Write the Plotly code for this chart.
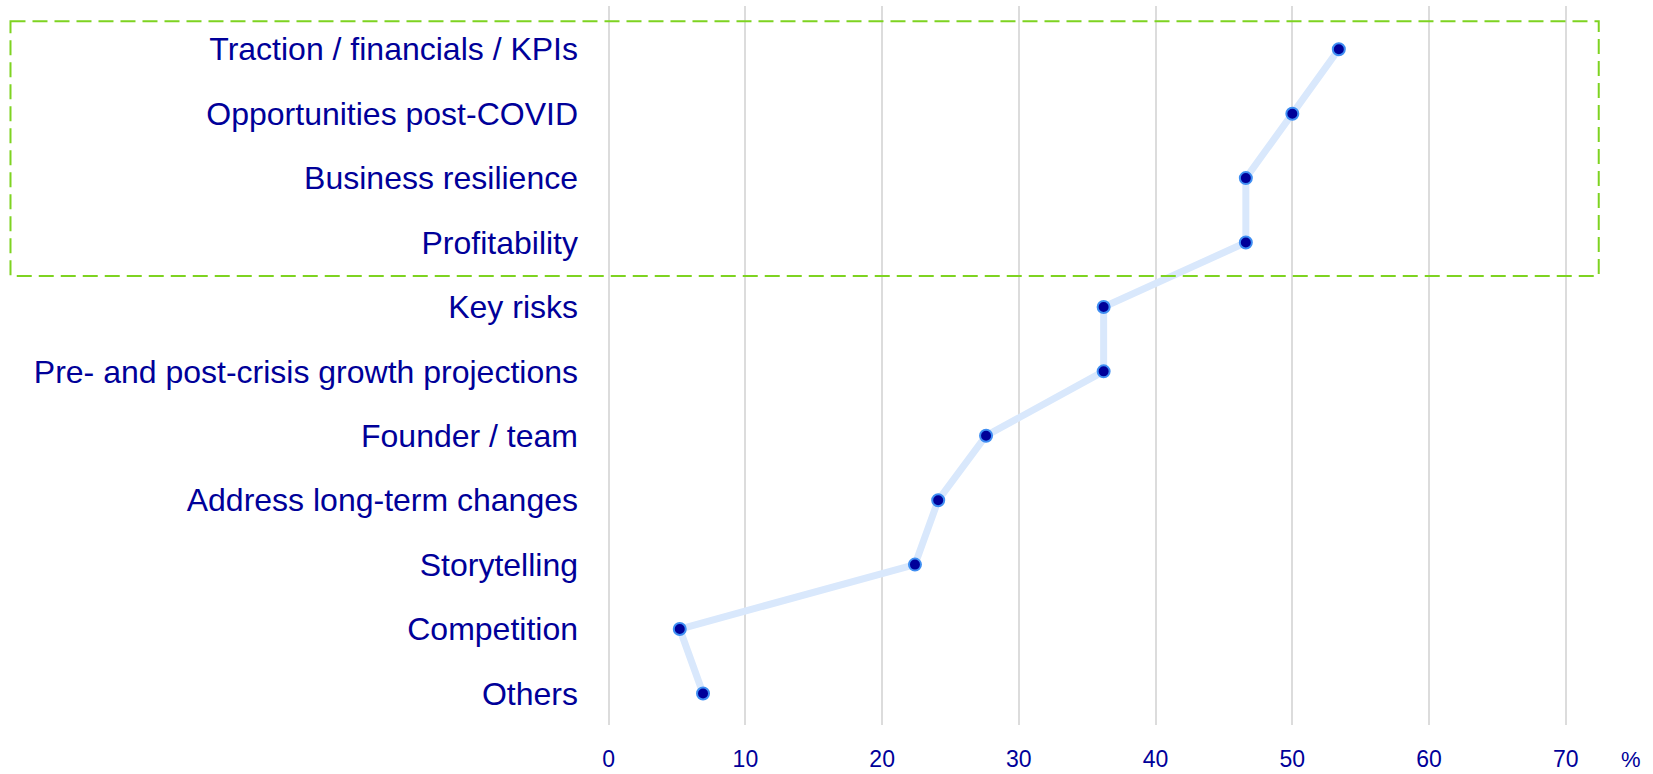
"""Key topics investors ask about – dot/line chart of % of respondents."""

import plotly.graph_objects as go

categories = [
    "Traction / financials / KPIs",
    "Opportunities post-COVID",
    "Business resilience",
    "Profitability",
    "Key risks",
    "Pre- and post-crisis growth projections",
    "Founder / team",
    "Address long-term changes",
    "Storytelling",
    "Competition",
    "Others",
]
share_pct = [53.4, 50.0, 46.6, 46.6, 36.2, 36.2, 27.6, 24.1, 22.4, 5.2, 6.9]

x_ticks = [0, 10, 20, 30, 40, 50, 60, 70]
x_tick_labels = ["0", "10", "20", "30", "40", "50", "60", "70"]
unit_label = "%"

highlighted = ["Traction / financials / KPIs", "Opportunities post-COVID",
               "Business resilience", "Profitability"]

TEXT = "#000099"
FONT = "Liberation Sans, Arial, sans-serif"

fig = go.Figure()
fig.add_trace(go.Scatter(
    x=share_pct,
    y=categories,
    mode="lines+markers",
    line=dict(color="#d9e8fc", width=7),
    marker=dict(size=12, color="#000099", line=dict(color="#3f8ef2", width=2)),
    hoverinfo="x+y",
    showlegend=False,
))

# dashed highlight box around the top group
idx = [categories.index(c) for c in highlighted]
fig.add_shape(
    type="rect",
    xref="paper", yref="y",
    x0=-0.5588, x1=0.9596,
    y0=min(idx) - 0.435, y1=max(idx) + 0.52,
    line=dict(color="#7ed321", width=2, dash="15px,7px"),
    fillcolor="rgba(0,0,0,0)",
    layer="above",
)

# unit label to the right of the last tick
fig.add_annotation(
    x=74.8, xref="x", y=-0.048, yref="paper",
    text=unit_label, showarrow=False,
    font=dict(family=FONT, size=22, color=TEXT),
    yanchor="middle", borderpad=0,
)

fig.update_layout(
    width=1653,
    height=774,
    margin=dict(l=595, r=12, t=6, b=49),
    plot_bgcolor="white",
    paper_bgcolor="white",
    font=dict(family=FONT, color=TEXT),
    xaxis=dict(
        range=[-1, 75.5],
        tickvals=x_ticks,
        ticktext=x_tick_labels,
        showgrid=True,
        gridcolor="#dcdcdc",
        gridwidth=2,
        zeroline=False,
        showline=False,
        ticks="",
        ticklabelstandoff=18,
        tickfont=dict(family=FONT, size=23, color=TEXT),
        automargin=False,
        fixedrange=True,
    ),
    yaxis=dict(
        type="category",
        categoryorder="array",
        categoryarray=categories,
        range=[10.49, -0.672],
        showgrid=False,
        zeroline=False,
        showline=False,
        ticks="",
        ticklabelstandoff=16,
        tickfont=dict(family=FONT, size=32, color=TEXT),
        automargin=False,
        fixedrange=True,
    ),
)

# drop the default page margin so the figure sits flush in the window
fig.write_html(
    "out.html",
    config={"displayModeBar": False},
    post_script="document.body.style.margin='0';",
)
